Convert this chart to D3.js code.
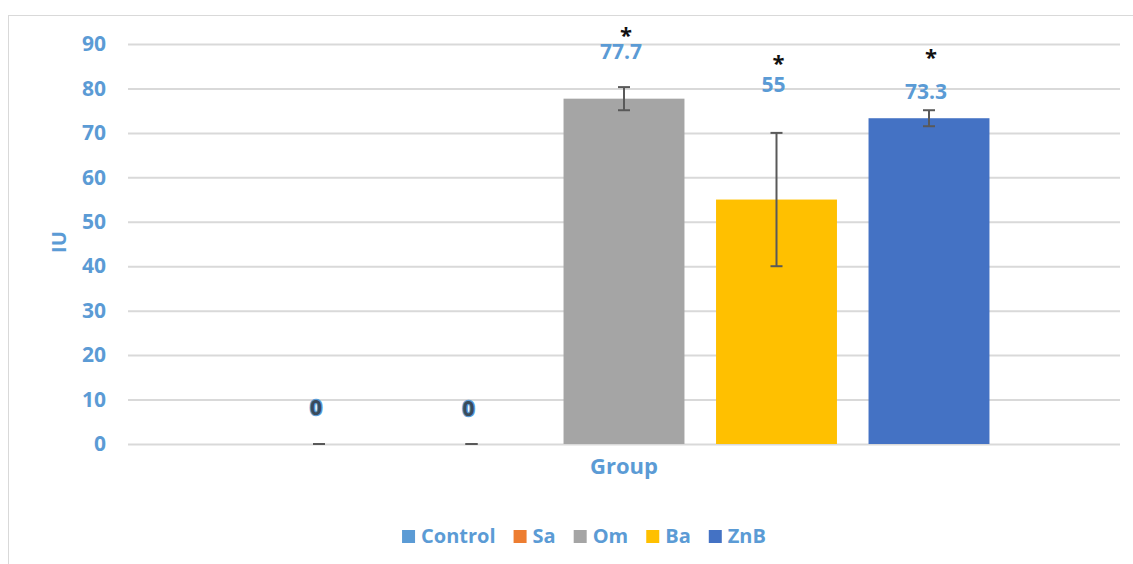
<!DOCTYPE html>
<html>
<head>
<meta charset="utf-8">
<script src="https://cdn.jsdelivr.net/npm/d3@7"></script>
<style>
  body { margin: 0; background: #fff; }
  text { font-family: "Open Sans", "Noto Sans", sans-serif; }
</style>
</head>
<body>
<div id="chart"></div>
<script>
// data
var category = ["Group"];
var series = ["Control", "Sa", "Om", "Ba", "ZnB"];
var values = [0, 0, 77.7, 55, 73.3];
var errors = [0, 0, 2.6, 15, 1.8];
var significant = [false, false, true, true, true];
var yTicks = [0, 10, 20, 30, 40, 50, 60, 70, 80, 90];

var colors = ["#5b9bd5", "#ed7d31", "#a5a5a5", "#ffc000", "#4472c4"];

// hand-placed label offsets (px above bar top), like the original chart
var labelLift = [29, 28, 40, 108, 19];
var starLift = [0, 0, 56, 129, 53];

var svgWidth = 1133;
var svgHeight = 564;

var margin = { top: 44, right: 13, bottom: 120, left: 128 };
var width = svgWidth - margin.left - margin.right;
var height = svgHeight - margin.top - margin.bottom;

var svg = d3.select("#chart")
  .append("svg")
  .attr("width", svgWidth)
  .attr("height", svgHeight);

// chart frame
svg.append("rect")
  .attr("x", 8.5)
  .attr("y", 15.5)
  .attr("width", svgWidth)
  .attr("height", svgHeight)
  .attr("fill", "none")
  .attr("stroke", "#d9d9d9")
  .attr("stroke-width", 1);

var chartGroup = svg.append("g")
  .attr("transform", `translate(${margin.left}, ${margin.top})`);

var y = d3.scaleLinear()
  .domain([0, 90])
  .range([height, 0]);

var x0 = d3.scaleBand()
  .domain(category)
  .range([0, width]);

var x1 = d3.scaleBand()
  .domain(series)
  .range([0, x0.bandwidth()])
  .paddingInner(0.207)
  .paddingOuter(0.856);

// gridlines
var grid = chartGroup.append("g")
  .call(d3.axisLeft(y).tickValues(yTicks).tickSize(-width).tickFormat(""));
grid.select(".domain").remove();
grid.selectAll("line")
  .attr("stroke", "#d9d9d9")
  .attr("stroke-width", 2);

// y labels
var yAxis = chartGroup.append("g")
  .call(d3.axisLeft(y).tickValues(yTicks).tickSize(0).tickPadding(22));
yAxis.select(".domain").remove();
yAxis.selectAll("text")
  .attr("fill", "#5b9bd5")
  .attr("font-family", "'Open Sans', sans-serif")
  .attr("font-size", "21px")
  .attr("font-weight", "bold");

// x axis (single category)
var xAxis = chartGroup.append("g")
  .attr("transform", `translate(0, ${height})`)
  .call(d3.axisBottom(x0).tickSize(0).tickPadding(14));
xAxis.select(".domain").remove();
xAxis.selectAll("text")
  .attr("fill", "#5b9bd5")
  .attr("font-family", "'Open Sans', sans-serif")
  .attr("font-size", "22px")
  .attr("font-weight", "bold");

var rows = series.map(function (s, i) {
  return { name: s, value: values[i], err: errors[i], sig: significant[i], i: i };
});

var group = chartGroup.selectAll("g.grp")
  .data(category)
  .enter()
  .append("g")
  .attr("class", "grp")
  .attr("transform", function (d) { return `translate(${x0(d)}, 0)`; });

// bars
group.selectAll("rect")
  .data(rows)
  .enter()
  .append("rect")
  .attr("x", function (d) { return x1(d.name); })
  .attr("y", function (d) { return y(d.value); })
  .attr("width", x1.bandwidth())
  .attr("height", function (d) { return height - y(d.value); })
  .attr("fill", function (d) { return colors[d.i]; });

// error bars
var cap = 6;
var eb = group.selectAll("g.err")
  .data(rows)
  .enter()
  .append("g")
  .attr("class", "err")
  .attr("stroke", "#595959")
  .attr("stroke-width", 2);

eb.append("line")
  .attr("x1", function (d) { return x1(d.name) + x1.bandwidth() / 2; })
  .attr("x2", function (d) { return x1(d.name) + x1.bandwidth() / 2; })
  .attr("y1", function (d) { return y(d.value + d.err); })
  .attr("y2", function (d) { return y(d.value - d.err); });

eb.append("line")
  .attr("x1", function (d) { return x1(d.name) + x1.bandwidth() / 2 - cap; })
  .attr("x2", function (d) { return x1(d.name) + x1.bandwidth() / 2 + cap; })
  .attr("y1", function (d) { return y(d.value + d.err); })
  .attr("y2", function (d) { return y(d.value + d.err); });

eb.append("line")
  .attr("x1", function (d) { return x1(d.name) + x1.bandwidth() / 2 - cap; })
  .attr("x2", function (d) { return x1(d.name) + x1.bandwidth() / 2 + cap; })
  .attr("y1", function (d) { return y(d.value - d.err); })
  .attr("y2", function (d) { return y(d.value - d.err); });

// value labels
group.selectAll("text.val")
  .data(rows)
  .enter()
  .append("text")
  .attr("class", "val")
  .attr("x", function (d) { return x1(d.name) + x1.bandwidth() / 2 - 3; })
  .attr("y", function (d) { return y(d.value) - labelLift[d.i]; })
  .attr("text-anchor", "middle")
  .attr("font-size", "21px")
  .attr("font-weight", "bold")
  .attr("fill", function (d) { return d.value === 0 ? "#3a4a5a" : "#5b9bd5"; })
  .attr("stroke", function (d) { return d.value === 0 ? "#5b9bd5" : "none"; })
  .attr("stroke-width", 2.5)
  .attr("paint-order", "stroke")
  .text(function (d) { return d.value; });

// significance stars
group.selectAll("text.star")
  .data(rows.filter(function (d) { return d.sig; }))
  .enter()
  .append("text")
  .attr("class", "star")
  .attr("x", function (d) { return x1(d.name) + x1.bandwidth() / 2 + 2; })
  .attr("y", function (d) { return y(d.value) - starLift[d.i]; })
  .attr("text-anchor", "middle")
  .attr("font-family", "'Liberation Sans', sans-serif")
  .attr("font-size", "22px")
  .attr("font-weight", "bold")
  .attr("fill", "#111")
  .text("*");

// axis title
svg.append("text")
  .attr("transform", "rotate(-90)")
  .attr("x", -242)
  .attr("y", 66)
  .attr("text-anchor", "middle")
  .attr("font-size", "20px")
  .attr("font-weight", "bold")
  .attr("fill", "#5b9bd5")
  .text("IU");

// legend
var legend = svg.append("g")
  .attr("transform", "translate(0, 543)");

var lx = 0;
var items = legend.selectAll("g")
  .data(series)
  .enter()
  .append("g");

items.append("rect")
  .attr("y", -13)
  .attr("width", 13)
  .attr("height", 13)
  .attr("fill", function (d, i) { return colors[i]; });

items.append("text")
  .attr("x", 19)
  .attr("y", 0)
  .attr("font-size", "20px")
  .attr("font-weight", "bold")
  .attr("fill", "#5b9bd5")
  .text(function (d) { return d; });

items.each(function () {
  var w = d3.select(this).select("text").node().getComputedTextLength();
  d3.select(this).attr("transform", `translate(${lx}, 0)`);
  lx += 19 + w + 18;
});
lx -= 18;
legend.attr("transform", `translate(${584 - lx / 2}, 543)`);
</script>
</body>
</html>
